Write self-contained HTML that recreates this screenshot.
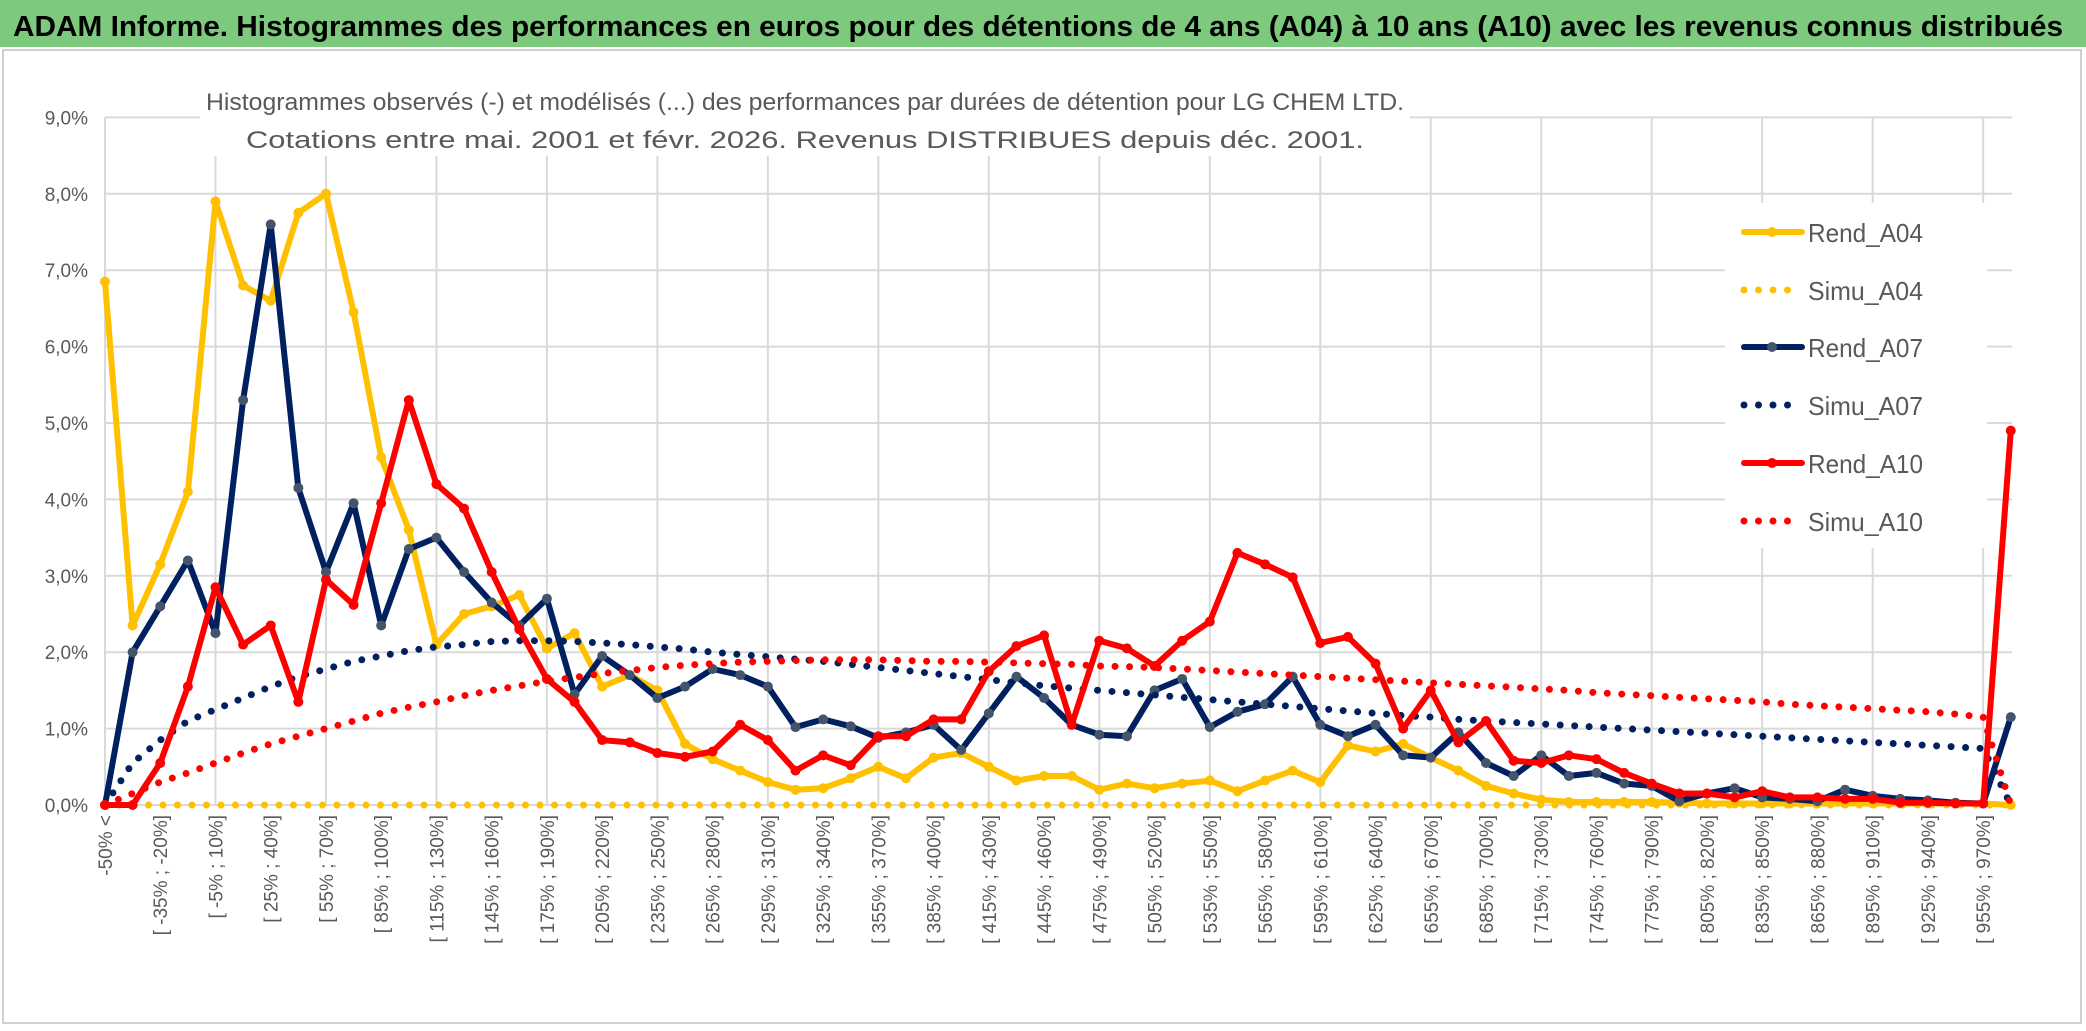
<!DOCTYPE html>
<html><head><meta charset="utf-8"><style>
html,body{margin:0;padding:0;background:#fff;}
svg{display:block;font-family:"Liberation Sans",sans-serif;}
</style></head><body>
<svg id="chart" width="2086" height="1031" viewBox="0 0 2086 1031" xmlns="http://www.w3.org/2000/svg">
<rect x="0" y="0" width="2086" height="1031" fill="#fff"/>
<rect x="0" y="0" width="2086" height="47" fill="#7dc97d"/>
<text x="13" y="36" font-size="29" font-weight="bold" fill="#000" textLength="2050" lengthAdjust="spacingAndGlyphs">ADAM Informe. Histogrammes des performances en euros pour des détentions de 4 ans (A04) à 10 ans (A10) avec les revenus connus distribués</text>
<rect x="3" y="50" width="2078" height="973" fill="none" stroke="#d0d0d0" stroke-width="2"/>
<g id="grid"></g>
<g id="yaxis"></g>
<g id="xaxis"></g>
<rect x="200" y="82" width="1210" height="74" fill="#fff"/>
<text x="206" y="110" font-size="24" fill="#595959" textLength="1198" lengthAdjust="spacingAndGlyphs">Histogrammes observés (-) et modélisés (...) des performances par durées de détention pour LG CHEM LTD.</text>
<text x="246" y="148" font-size="24" fill="#595959" textLength="1118" lengthAdjust="spacingAndGlyphs">Cotations entre mai. 2001 et févr. 2026. Revenus DISTRIBUES depuis déc. 2001.</text>
<rect x="1725" y="203" width="262" height="345" fill="#fff"/>
<g id="series"></g>
<g id="legend"></g>
</svg>
<script>
const categories = ["-50% <","[ -50% ; -35%]","[ -35% ; -20%]","[ -20% ; -5%]","[ -5% ; 10%]","[ 10% ; 25%]","[ 25% ; 40%]","[ 40% ; 55%]","[ 55% ; 70%]","[ 70% ; 85%]","[ 85% ; 100%]","[ 100% ; 115%]","[ 115% ; 130%]","[ 130% ; 145%]","[ 145% ; 160%]","[ 160% ; 175%]","[ 175% ; 190%]","[ 190% ; 205%]","[ 205% ; 220%]","[ 220% ; 235%]","[ 235% ; 250%]","[ 250% ; 265%]","[ 265% ; 280%]","[ 280% ; 295%]","[ 295% ; 310%]","[ 310% ; 325%]","[ 325% ; 340%]","[ 340% ; 355%]","[ 355% ; 370%]","[ 370% ; 385%]","[ 385% ; 400%]","[ 400% ; 415%]","[ 415% ; 430%]","[ 430% ; 445%]","[ 445% ; 460%]","[ 460% ; 475%]","[ 475% ; 490%]","[ 490% ; 505%]","[ 505% ; 520%]","[ 520% ; 535%]","[ 535% ; 550%]","[ 550% ; 565%]","[ 565% ; 580%]","[ 580% ; 595%]","[ 595% ; 610%]","[ 610% ; 625%]","[ 625% ; 640%]","[ 640% ; 655%]","[ 655% ; 670%]","[ 670% ; 685%]","[ 685% ; 700%]","[ 700% ; 715%]","[ 715% ; 730%]","[ 730% ; 745%]","[ 745% ; 760%]","[ 760% ; 775%]","[ 775% ; 790%]","[ 790% ; 805%]","[ 805% ; 820%]","[ 820% ; 835%]","[ 835% ; 850%]","[ 850% ; 865%]","[ 865% ; 880%]","[ 880% ; 895%]","[ 895% ; 910%]","[ 910% ; 925%]","[ 925% ; 940%]","[ 940% ; 955%]","[ 955% ; 970%]","> 970%"];
const yTicks = [0,1,2,3,4,5,6,7,8,9];
const yTickLabels = ["0,0%","1,0%","2,0%","3,0%","4,0%","5,0%","6,0%","7,0%","8,0%","9,0%"];
const rendA04 = [6.85,2.35,3.15,4.1,7.9,6.8,6.6,7.75,8.0,6.45,4.55,3.6,2.1,2.5,2.6,2.75,2.05,2.25,1.55,1.7,1.5,0.8,0.6,0.45,0.3,0.2,0.22,0.35,0.5,0.35,0.62,0.68,0.5,0.32,0.38,0.38,0.2,0.28,0.22,0.28,0.32,0.18,0.32,0.45,0.3,0.78,0.7,0.8,0.62,0.45,0.25,0.15,0.07,0.04,0.04,0.04,0.04,0.03,0.02,0.02,0.02,0.02,0.02,0.02,0.02,0.02,0.02,0.02,0.02,0.0];
const simuA04 = [0,0,0,0,0,0,0,0,0,0,0,0,0,0,0,0,0,0,0,0,0,0,0,0,0,0,0,0,0,0,0,0,0,0,0,0,0,0,0,0,0,0,0,0,0,0,0,0,0,0,0,0,0,0,0,0,0,0,0,0,0,0,0,0,0,0,0,0,0,0];
const rendA07 = [0,2.0,2.6,3.2,2.25,5.3,7.6,4.15,3.05,3.95,2.35,3.35,3.5,3.05,2.65,2.35,2.7,1.45,1.95,1.7,1.4,1.55,1.78,1.7,1.55,1.02,1.12,1.03,0.88,0.95,1.05,0.72,1.2,1.68,1.4,1.05,0.92,0.9,1.5,1.65,1.02,1.22,1.32,1.68,1.05,0.9,1.05,0.65,0.62,0.95,0.55,0.38,0.65,0.38,0.42,0.28,0.25,0.05,0.15,0.22,0.1,0.08,0.05,0.2,0.12,0.08,0.06,0.03,0.02,1.15];
const simuA07 = [0,0.55,0.85,1.1,1.25,1.4,1.55,1.68,1.78,1.88,1.95,2.02,2.07,2.1,2.14,2.15,2.15,2.14,2.12,2.1,2.07,2.04,2.0,1.97,1.94,1.91,1.88,1.84,1.8,1.76,1.72,1.68,1.64,1.6,1.56,1.53,1.5,1.47,1.44,1.41,1.38,1.35,1.32,1.29,1.26,1.23,1.2,1.17,1.15,1.12,1.1,1.08,1.06,1.04,1.02,1.0,0.98,0.96,0.94,0.92,0.9,0.88,0.86,0.84,0.82,0.8,0.78,0.76,0.74,0];
const rendA10 = [0,0,0.55,1.55,2.85,2.1,2.35,1.35,2.95,2.62,3.95,5.3,4.2,3.88,3.05,2.3,1.65,1.35,0.85,0.82,0.68,0.63,0.7,1.05,0.85,0.45,0.65,0.52,0.9,0.9,1.12,1.12,1.75,2.08,2.22,1.05,2.15,2.05,1.82,2.15,2.4,3.3,3.15,2.98,2.12,2.2,1.85,1.0,1.5,0.82,1.1,0.58,0.55,0.65,0.6,0.42,0.28,0.15,0.15,0.1,0.18,0.1,0.1,0.08,0.08,0.03,0.03,0.02,0.02,4.9];
const simuA10 = [0,0.15,0.3,0.42,0.55,0.68,0.8,0.9,1.0,1.1,1.2,1.28,1.35,1.43,1.5,1.56,1.62,1.67,1.72,1.76,1.8,1.83,1.85,1.87,1.88,1.89,1.9,1.9,1.9,1.89,1.88,1.88,1.87,1.86,1.85,1.84,1.82,1.81,1.8,1.78,1.76,1.74,1.72,1.7,1.68,1.66,1.64,1.62,1.6,1.58,1.56,1.54,1.52,1.5,1.47,1.45,1.43,1.41,1.39,1.37,1.35,1.32,1.3,1.28,1.26,1.24,1.22,1.19,1.15,0];
const seriesNames = ["Rend_A04","Simu_A04","Rend_A07","Simu_A07","Rend_A10","Simu_A10"];

const NS = "http://www.w3.org/2000/svg";
const X0 = 105, STEP = 27.62, Y0 = 805, PER = 76.4, XR = 2012;
function xPos(i){ return X0 + i*STEP; }
function yPos(v){ return Y0 - v*PER; }
function mk(tag, attrs, parent){ const e=document.createElementNS(NS,tag); for(const k in attrs) e.setAttribute(k,attrs[k]); parent.appendChild(e); return e; }

const grid = document.getElementById('grid');
yTicks.forEach(function(t){
  const l = mk('line',{x1:X0,x2:XR,y1:yPos(t),y2:yPos(t),stroke:'#d9d9d9','stroke-width':2},grid);
  
  
});
for(let i=0;i<categories.length;i+=4){
  const l = mk('line',{x1:xPos(i),x2:xPos(i),y1:yPos(9),y2:Y0,stroke:'#d9d9d9','stroke-width':2},grid);
  
  
}
const yaxis = document.getElementById('yaxis');
yTicks.forEach(function(t,k){
  const tx = mk('text',{x:88,y:yPos(t)+7,'font-size':19,'text-anchor':'end',fill:'#595959'},yaxis);
  tx.textContent = yTickLabels[k];
  
  
});
const xaxis = document.getElementById('xaxis');
categories.forEach(function(c,i){
  if(i%2!==0) return;
  const x = xPos(i)+7;
  const tx = mk('text',{x:x,y:815,'font-size':19,'text-anchor':'end',fill:'#595959',transform:'rotate(-90 '+x+' 815)'},xaxis);
  tx.textContent = c;
  
  
});

const sg = document.getElementById('series');
function drawSeries(vals, color, dotted, marker, markerColor, name){
  const g = mk('g',{},sg);
  
  
  const pts = vals.map(function(v,i){ return xPos(i).toFixed(1)+','+yPos(v).toFixed(1); }).join(' ');
  const attrs = {points:pts,fill:'none',stroke:color,'stroke-linejoin':'round'};
  if(dotted){ attrs['stroke-width']=7; attrs['stroke-dasharray']='0 14.5'; attrs['stroke-linecap']='round'; }
  else { attrs['stroke-width']=6; }
  const pl = mk('polyline',attrs,g);
  
  
  if(marker){
    vals.forEach(function(v,i){
      const c = mk('circle',{cx:xPos(i),cy:yPos(v),r:5,fill:markerColor},g);
      
      
    });
  }
}
drawSeries(rendA04,'#ffc000',false,true,'#ffc000','rend-a04');
drawSeries(simuA04,'#ffc000',true,false,'','simu-a04');
drawSeries(rendA07,'#002060',false,true,'#44546a','rend-a07');
drawSeries(simuA07,'#002060',true,false,'','simu-a07');
drawSeries(rendA10,'#ff0000',false,true,'#ff0000','rend-a10');
drawSeries(simuA10,'#ff0000',true,false,'','simu-a10');

const legend = document.getElementById('legend');
const legColors = ['#ffc000','#ffc000','#002060','#002060','#ff0000','#ff0000'];
const legMarker = ['#ffc000','','#44546a','','#ff0000',''];
const legY = [232,290,347,405,463,521];
seriesNames.forEach(function(n,k){
  const g = mk('g',{},legend);
  
  
  const dotted = n.indexOf('Simu')===0;
  const a = {x1:1744,x2:1802,y1:legY[k],y2:legY[k],stroke:legColors[k]};
  if(dotted){ a['stroke-width']=7; a['stroke-dasharray']='0 14.5'; a['stroke-linecap']='round'; }
  else { a['stroke-width']=6; a['stroke-linecap']='round'; }
  const ln = mk('line',a,g);
  
  
  if(!dotted){
    const c = mk('circle',{cx:1772,cy:legY[k],r:5,fill:legMarker[k]},g);
    
    
  }
  const tx = mk('text',{x:1808,y:legY[k]+10,'font-size':26,fill:'#595959',textLength:115,lengthAdjust:'spacingAndGlyphs'},g);
  tx.textContent = n;
  
  
});
</script>
</body></html>
